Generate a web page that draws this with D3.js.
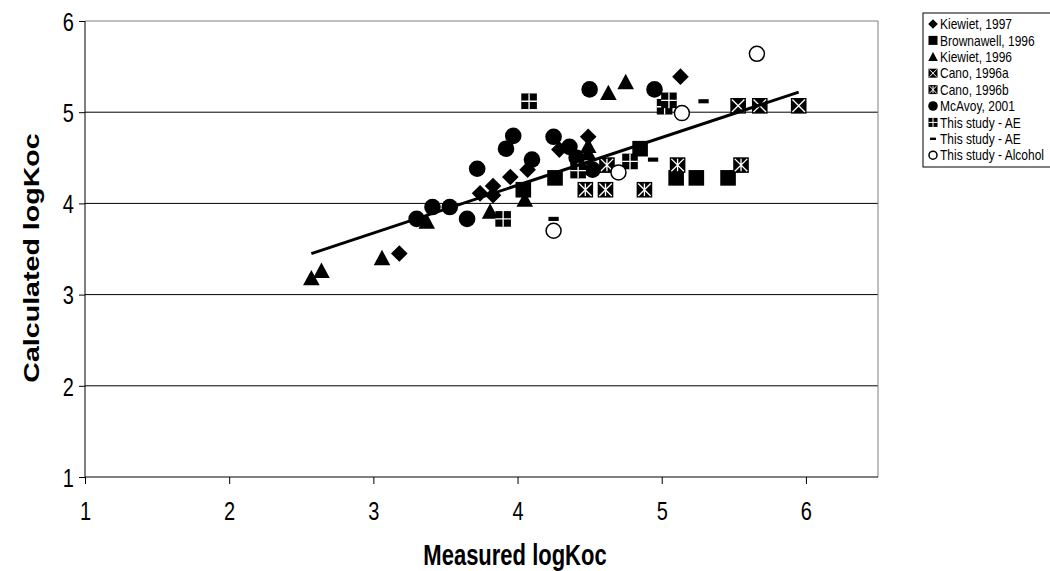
<!DOCTYPE html>
<html>
<head>
<meta charset="utf-8">
<script src="https://cdn.jsdelivr.net/npm/d3@7"></script>
<style>
  body { margin: 0; background: #fff; }
  svg { font-family: "Liberation Sans", Arial, sans-serif; }
</style>
</head>
<body>
<svg id="chart" width="1050" height="571"></svg>
<script>
// series values, [measured, calculated] logKoc
const kiewiet1997 = [[3.18, 3.45], [3.74, 4.11], [3.83, 4.19], [3.83, 4.09], [3.95, 4.29], [4.07, 4.37], [4.29, 4.59], [4.49, 4.73], [5.13, 5.39]];
const brownawell1996 = [[4.04, 4.15], [4.26, 4.28], [4.85, 4.60], [5.10, 4.28], [5.24, 4.28], [5.46, 4.28]];
const kiewiet1996 = [[2.57, 3.18], [2.64, 3.26], [3.06, 3.40], [3.37, 3.80], [3.81, 3.91], [4.05, 4.04], [4.49, 4.55], [4.49, 4.63], [4.63, 5.21], [4.75, 5.33]];
const cano1996a = [[5.53, 5.07], [5.68, 5.07], [5.95, 5.07]];
const cano1996b = [[4.47, 4.15], [4.61, 4.15], [4.88, 4.15], [4.62, 4.42], [5.11, 4.42], [5.55, 4.42]];
const mcavoy2001 = [[3.30, 3.83], [3.41, 3.96], [3.53, 3.96], [3.65, 3.83], [3.72, 4.38], [3.92, 4.60], [3.97, 4.74], [4.10, 4.48], [4.25, 4.73], [4.36, 4.62], [4.41, 4.50], [4.52, 4.37], [4.50, 5.25], [4.95, 5.25]];
const studyAE = [[3.90, 3.83], [4.08, 5.12], [4.42, 4.36], [4.78, 4.46], [5.02, 5.06], [5.05, 5.13]];
const studyAE2 = [[4.25, 3.83], [4.94, 4.48], [5.29, 5.12]];
const studyAlcohol = [[4.25, 3.70], [4.70, 4.34], [5.14, 4.99], [5.66, 5.64]];
const trendLine = [[2.57, 3.45], [5.95, 5.22]];

const seriesNames = ["Kiewiet, 1997", "Brownawell, 1996", "Kiewiet, 1996", "Cano, 1996a", "Cano, 1996b", "McAvoy, 2001", "This study - AE", "This study - AE", "This study - Alcohol"];
const seriesShapes = ["diamond", "square", "triangle", "canoA", "canoB", "circle", "plus", "dash", "open"];
const seriesData = [kiewiet1997, brownawell1996, kiewiet1996, cano1996a, cano1996b, mcavoy2001, studyAE, studyAE2, studyAlcohol];

const xTicks = [1, 2, 3, 4, 5, 6];
const yTicks = [1, 2, 3, 4, 5, 6];

let svg = d3.select("svg#chart");
let margin = { top: 21, left: 85, right: 878, bottom: 477 };
let stretch = 1.3; // text in the picture is drawn taller than wide

let xScale = d3.scaleLinear().domain([1, 6.5]).range([margin.left, margin.right]);
let yScale = d3.scaleLinear().domain([1, 6]).range([margin.bottom, margin.top]);

// horizontal gridlines
svg.append("g").selectAll("line")
    .data(yTicks.filter(d => d > 1 && d < 6))
    .join("line")
    .attr("x1", margin.left).attr("x2", margin.right)
    .attr("y1", d => yScale(d)).attr("y2", d => yScale(d))
    .attr("stroke", "#000").attr("stroke-width", 1);

// plot border (top, right)
svg.append("path")
    .attr("d", `M${margin.left},${yScale(6)}H${margin.right}V${margin.bottom}`)
    .attr("fill", "none").attr("stroke", "#808080").attr("stroke-width", 1);

// axes
let bottomAxis = d3.axisBottom(xScale).tickValues(xTicks).tickSize(7).tickFormat(d3.format("d"));
let gx = svg.append("g")
    .attr("transform", "translate(0," + margin.bottom + ")")
    .call(bottomAxis);
gx.select(".domain").attr("d", `M${margin.left},0H${margin.right}`).attr("stroke", "#000");
gx.selectAll(".tick text")
    .attr("y", null)
    .attr("dy", "0.36em")
    .attr("transform", `translate(0,34) scale(1,${stretch})`);

let leftAxis = d3.axisLeft(yScale).tickValues(yTicks).tickSize(6).tickFormat(d3.format("d"));
let gy = svg.append("g")
    .attr("transform", "translate(" + margin.left + ",0)")
    .call(leftAxis);
gy.select(".domain").attr("d", `M0,${margin.top}V${margin.bottom}`).attr("stroke", "#000");
gy.selectAll(".tick text")
    .attr("x", null)
    .attr("dy", "0.36em")
    .attr("transform", `translate(-11,0) scale(1,${stretch})`);

svg.selectAll(".tick text").attr("font-size", 20).attr("font-family", "Liberation Sans, Arial, sans-serif").attr("fill", "#000");
svg.selectAll(".tick line").attr("stroke", "#000");

// axis titles
svg.append("text")
    .attr("transform", `translate(515,555) scale(1,${stretch})`)
    .attr("dy", "0.36em")
    .attr("text-anchor", "middle")
    .attr("font-size", 22).attr("font-weight", "bold")
    .text("Measured logKoc");
svg.append("text")
    .attr("transform", `translate(31,258) rotate(-90) scale(${stretch},1)`)
    .attr("dy", "0.36em")
    .attr("text-anchor", "middle")
    .attr("font-size", 22).attr("font-weight", "bold")
    .text("Calculated logKoc");

// marker drawing
function drawMarker(g, shape, r) {
  let s = r * 0.94;
  if (shape === "diamond") {
    g.append("path").attr("d", `M0,${-r}L${r},0L0,${r}L${-r},0Z`).attr("fill", "#000");
  } else if (shape === "square") {
    g.append("rect").attr("x", -s).attr("y", -s).attr("width", 2 * s).attr("height", 2 * s).attr("fill", "#000");
  } else if (shape === "triangle") {
    g.append("path").attr("d", `M0,${-r}L${r},${r * 0.85}L${-r},${r * 0.85}Z`).attr("fill", "#000");
  } else if (shape === "circle") {
    g.append("circle").attr("r", r).attr("fill", "#000");
  } else if (shape === "open") {
    g.append("circle").attr("r", r - 0.8).attr("fill", "#fff").attr("stroke", "#000").attr("stroke-width", 1.5);
  } else if (shape === "dash") {
    g.append("rect").attr("x", -r * 0.62).attr("y", -r * 0.25).attr("width", r * 1.24).attr("height", r * 0.5).attr("fill", "#000");
  } else {
    g.append("rect").attr("x", -s).attr("y", -s).attr("width", 2 * s).attr("height", 2 * s).attr("fill", "#000");
    let k = s * 0.8;
    let w = Math.max(1, r * 0.16);
    let p;
    if (shape === "plus") p = `M0,${-s}V${s}M${-s},0H${s}`;
    else if (shape === "canoA") p = `M${-k},${-k}L${k},${k}M${k},${-k}L${-k},${k}`;
    else p = `M${-k},${-k}L${k},${k}M${k},${-k}L${-k},${k}M0,${-k}V${k}`;
    g.append("path").attr("d", p).attr("stroke", "#fff").attr("stroke-width", w).attr("fill", "none");
  }
}

// points
let scatter = svg.append("g").attr("id", "scatter");
seriesData.forEach((data, i) => {
  data.forEach(d => {
    let g = scatter.append("g")
        .attr("transform", "translate(" + xScale(d[0]) + "," + yScale(d[1]) + ")");
    drawMarker(g, seriesShapes[i], 8.3);
  });
});

// trend line
let line = d3.line().x(d => xScale(d[0])).y(d => yScale(d[1]));
svg.append("path")
    .datum(trendLine)
    .attr("d", line)
    .attr("fill", "none")
    .attr("stroke", "#000")
    .attr("stroke-width", 3);

// legend
let legend = svg.append("g").attr("transform", "translate(923,13)");
legend.append("rect")
    .attr("x", 0).attr("y", 0).attr("width", 140).attr("height", 154)
    .attr("fill", "#fff").attr("stroke", "#000").attr("stroke-width", 1);
seriesNames.forEach((name, i) => {
  let row = legend.append("g").attr("transform", "translate(0," + (11 + i * 16.4) + ")");
  let m = row.append("g").attr("transform", "translate(10,0)");
  drawMarker(m, seriesShapes[i], 4.8);
  row.append("text")
      .attr("transform", `translate(17,0) scale(1,1.2)`)
      .attr("dy", "0.36em")
      .attr("font-size", 12)
      .text(name);
});
</script>
</body>
</html>
